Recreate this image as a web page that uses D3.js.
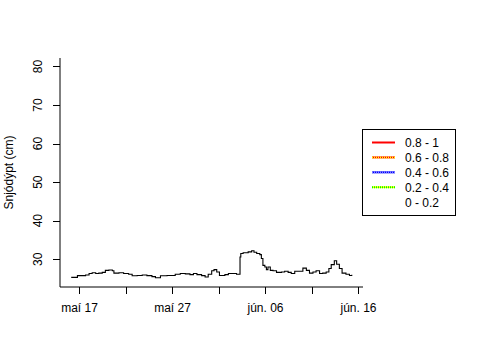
<!DOCTYPE html>
<html><head><meta charset="utf-8">
<script src="https://cdn.jsdelivr.net/npm/d3@7"></script>
<style>body{margin:0;background:#fff}svg{display:block}text{font-family:"Liberation Sans",Arial,sans-serif;font-size:12px;fill:#000}</style>
</head><body>
<script>
const times = ["2013-05-16T04:00","2013-05-16T20:00","2013-05-17T17:00","2013-05-18T02:00","2013-05-18T10:00","2013-05-18T19:00","2013-05-19T03:00","2013-05-19T12:00","2013-05-19T20:00","2013-05-20T05:00","2013-05-20T14:00","2013-05-20T18:00","2013-05-21T07:00","2013-05-21T19:00","2013-05-22T08:00","2013-05-22T17:00","2013-05-23T06:00","2013-05-23T19:00","2013-05-24T07:00","2013-05-24T20:00","2013-05-25T05:00","2013-05-25T18:00","2013-05-26T11:00","2013-05-26T23:00","2013-05-27T08:00","2013-05-27T21:00","2013-05-28T10:00","2013-05-28T22:00","2013-05-29T07:00","2013-05-29T16:00","2013-05-30T04:00","2013-05-30T13:00","2013-05-30T21:00","2013-05-31T06:00","2013-05-31T12:00","2013-05-31T19:00","2013-06-01T02:00","2013-06-01T16:00","2013-06-02T01:00","2013-06-02T14:00","2013-06-02T22:00","2013-06-03T05:00","2013-06-03T07:00","2013-06-03T09:00","2013-06-03T15:00","2013-06-04T04:00","2013-06-04T13:00","2013-06-04T19:00","2013-06-05T02:00","2013-06-05T10:00","2013-06-05T14:00","2013-06-05T18:00","2013-06-05T23:00","2013-06-06T03:00","2013-06-06T07:00","2013-06-06T13:00","2013-06-06T20:00","2013-06-07T05:00","2013-06-07T18:00","2013-06-08T02:00","2013-06-08T11:00","2013-06-08T19:00","2013-06-09T04:00","2013-06-09T17:00","2013-06-10T01:00","2013-06-10T10:00","2013-06-10T18:00","2013-06-11T03:00","2013-06-11T11:00","2013-06-11T20:00","2013-06-12T04:00","2013-06-12T13:00","2013-06-12T20:00","2013-06-13T02:00","2013-06-13T10:00","2013-06-13T16:00","2013-06-13T23:00","2013-06-14T06:00","2013-06-14T16:00","2013-06-15T01:00","2013-06-15T07:00"];
const depth = [25.3,25.75,25.9,26.3,26.5,26.3,26.4,26.6,27.1,27.2,27.0,26.4,26.5,26.3,26.1,25.7,25.8,25.9,25.75,25.5,25.2,25.7,25.8,25.8,26.1,26.3,26.2,26.0,26.3,26.0,25.75,25.4,26.1,27.0,27.3,26.7,25.8,26.0,26.3,26.3,26.1,26.1,30.6,31.5,31.7,31.9,32.2,31.8,31.5,31.2,30.2,28.4,28.0,27.3,28.0,27.1,27.0,26.6,26.7,26.9,26.6,26.3,26.9,26.9,27.7,27.1,26.4,26.7,27.0,26.3,26.4,26.7,27.6,28.6,29.6,28.7,27.6,26.4,26.1,25.8,26.0];
const yTicks = [30,40,50,60,70,80];
const xTickDates = ["2013-05-17","2013-05-22","2013-05-27","2013-06-01","2013-06-06","2013-06-11","2013-06-16"];
const xTickLabels = ["maí 17","","maí 27","","jún. 06","","jún. 16"];
const legendLabels = ["0.8 - 1","0.6 - 0.8","0.4 - 0.6","0.2 - 0.4","0 - 0.2"];
const legendBase = ["#ff0000","#ff0000","#0000ff","#ffff00","#ffffff"];
const legendDots = [null,"#ffff00","#8080ff","#00ff00",null];
const yLabel = "Snjódýpt (cm)";
const yLim = [25,80];

const W=480,H=360, L=60,R=363,T=58,B=287;
const parse = d3.timeParse("%Y-%m-%dT%H:%M"), parseD = d3.timeParse("%Y-%m-%d");
const data = times.map((t,i)=>({t:parse(t),v:depth[i]}));
const svg = d3.select("body").append("svg").attr("width",W).attr("height",H);

const ext = d3.extent(data,d=>+d.t), pad=(ext[1]-ext[0])*0.04;
const x = d3.scaleTime().domain([new Date(ext[0]-pad),new Date(ext[1]+pad)]).range([L,R]);
const ypad=(yLim[1]-yLim[0])*0.04;
const y = d3.scaleLinear().domain([yLim[0]-ypad,yLim[1]+ypad]).range([B,T]);

// L box
svg.append("path").attr("d",`M${L},${T}V${B}H${R}`).attr("fill","none").attr("stroke","#000");

// y axis ticks
const yg = svg.append("g");
yTicks.forEach(v=>{
  const yy=Math.round(y(v))+0.5;
  yg.append("line").attr("x1",L-7).attr("x2",L).attr("y1",yy).attr("y2",yy).attr("stroke","#000");
  yg.append("text").attr("transform",`translate(42,${y(v)}) rotate(-90)`).attr("text-anchor","middle").text(v);
});
// x axis ticks
xTickDates.forEach((d,i)=>{
  const xx=Math.round(x(parseD(d)))+0.5;
  svg.append("line").attr("x1",xx).attr("x2",xx).attr("y1",B).attr("y2",B+7).attr("stroke","#000");
  if(xTickLabels[i]) svg.append("text").attr("x",xx).attr("y",312).attr("text-anchor","middle").text(xTickLabels[i]);
});
svg.append("text").attr("transform",`translate(13,${(T+B)/2}) rotate(-90)`).attr("text-anchor","middle").text(yLabel);

// data line
svg.append("path").datum(data).attr("fill","none").attr("stroke","#000").attr("stroke-width",1.1)
  .attr("d",d3.line().curve(d3.curveStepAfter).x(d=>x(d.t)).y(d=>y(d.v)));

// legend
const lg = svg.append("g");
lg.append("rect").attr("x",362.5).attr("y",129.5).attr("width",93).attr("height",86).attr("fill","#fff").attr("stroke","#000");
legendLabels.forEach((lab,i)=>{
  const yy=142.5+i*14.9;
  lg.append("line").attr("x1",372).attr("x2",395).attr("y1",yy).attr("y2",yy).attr("stroke",legendBase[i]).attr("stroke-width",2);
  if(legendDots[i]) lg.append("line").attr("x1",372).attr("x2",395).attr("y1",yy).attr("y2",yy).attr("stroke",legendDots[i]).attr("stroke-width",2).attr("stroke-dasharray","1,1");
  lg.append("text").attr("x",405).attr("y",yy+4.5).text(lab);
});
</script>
</body></html>
